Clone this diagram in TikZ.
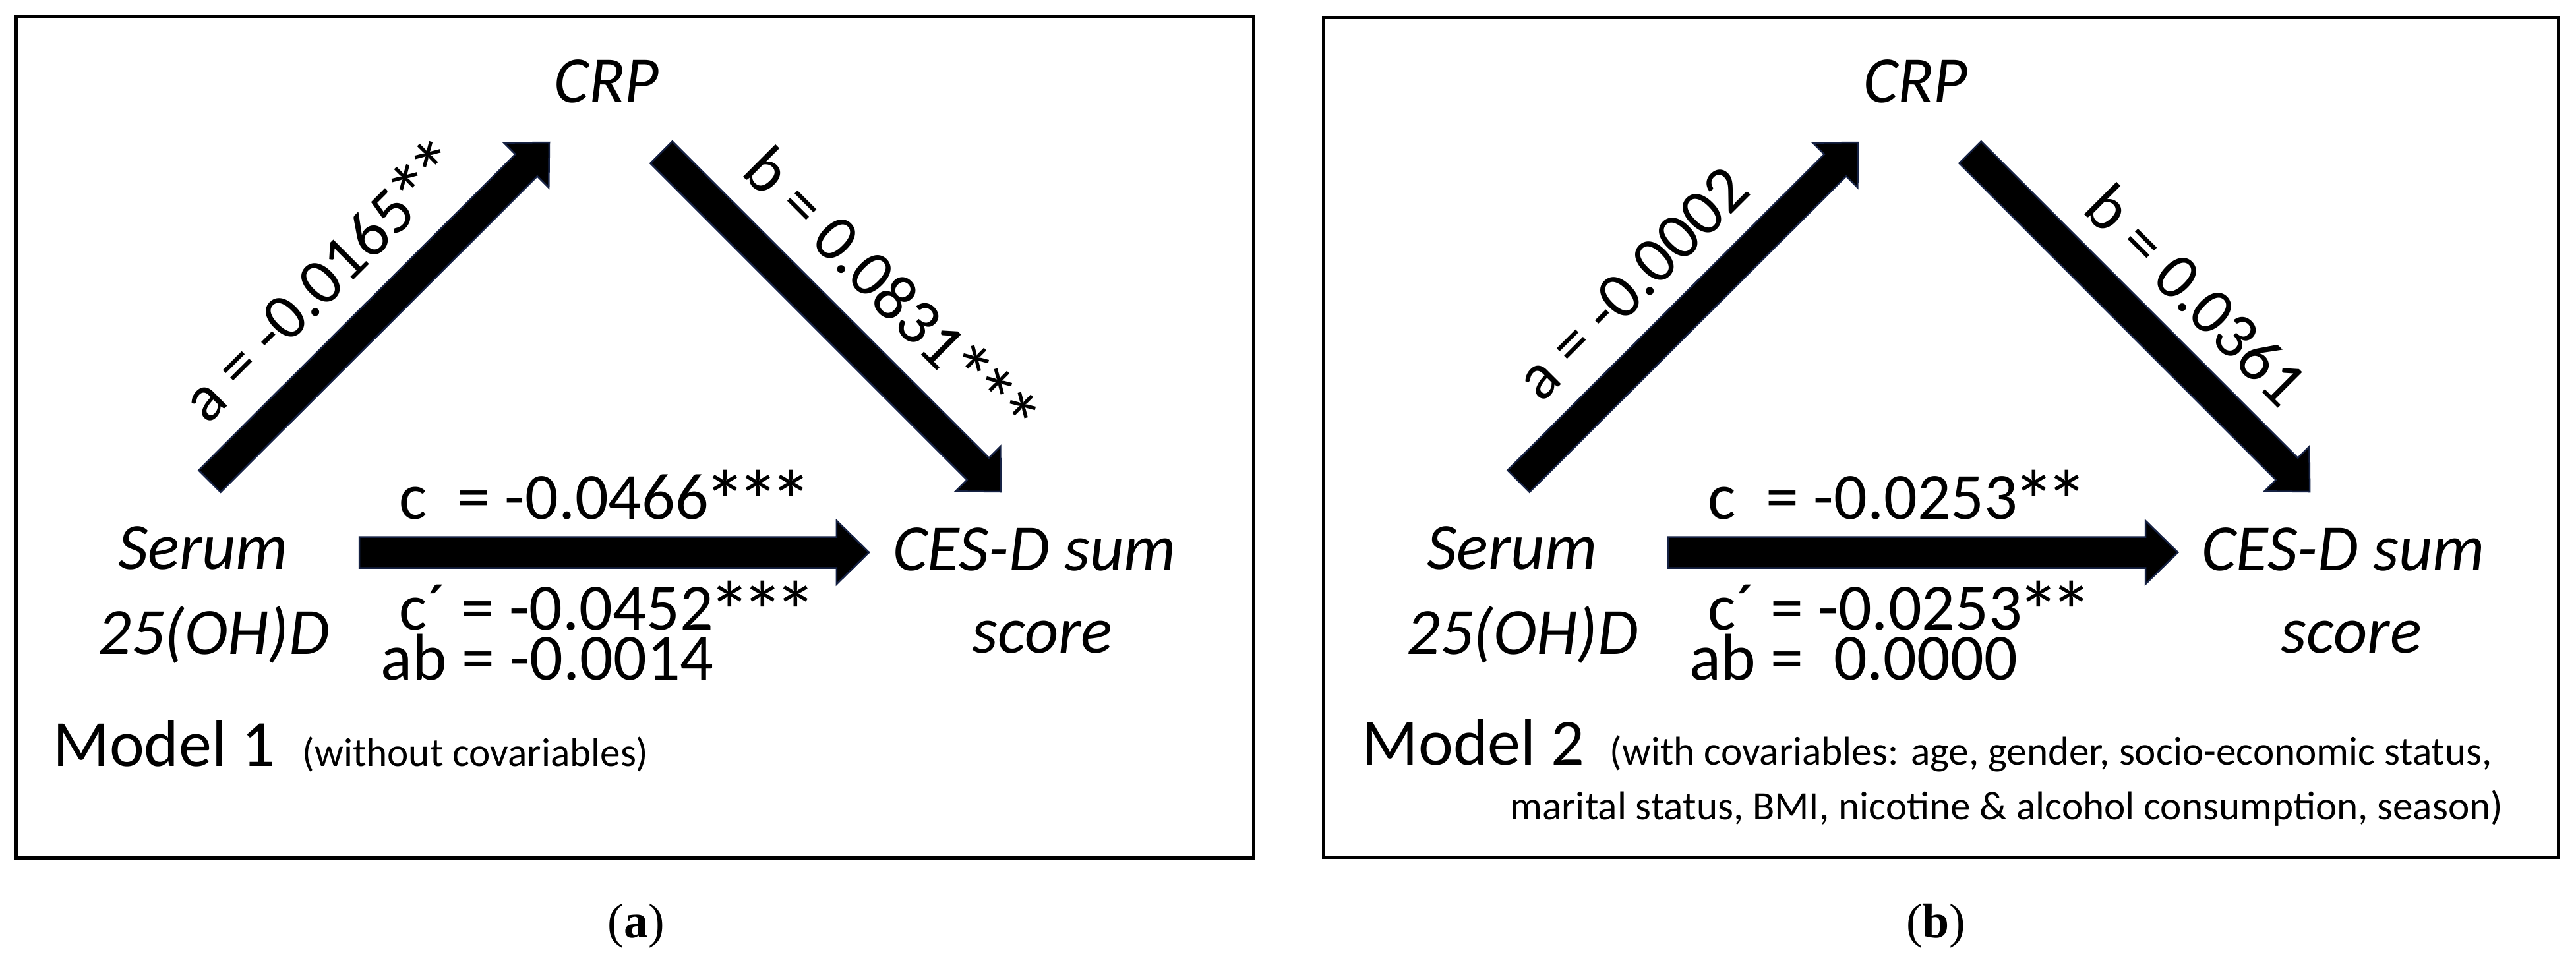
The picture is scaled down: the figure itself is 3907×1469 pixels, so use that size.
\documentclass[tikz,border=0pt]{standalone}
\usepackage{graphicx}
\usepackage{fontspec}
\setmainfont{Carlito}
\newfontfamily\capfont{Liberation Serif}
\usetikzlibrary{calc}
\definecolor{arrowedge}{RGB}{22,34,68}
\newcommand\bigstar{\makebox[0.5em]{\raisebox{-0.18em}{\scalebox{1.3}{*}}}}
\tikzset{
  lab/.style={inner sep=0pt, font=\fontsize{28.45}{34}\selectfont},
  vlab/.style={inner sep=0pt, font=\fontsize{28.45}{34}\selectfont\itshape},
  smalltxt/.style={inner sep=0pt, font=\fontsize{17.4}{21}\selectfont},
  captxt/.style={inner sep=0pt, font=\fontsize{21}{25}\selectfont\capfont},
  panel/.style={draw=black, line width=0.05cm},
  blockarrow/.style={fill=black, draw=arrowedge, line width=0.025cm, line join=miter},
}
\newcommand\fatarrow[2]{%
  \coordinate (#2-b) at ($(#2)!0.49cm!(#1)$);
  \draw[blockarrow] ($(#1)!0.235cm!90:(#2)$) -- ($(#2-b)!0.235cm!-90:(#1)$)
    -- ($(#2-b)!0.48cm!-90:(#1)$) -- (#2) -- ($(#2-b)!0.48cm!90:(#1)$)
    -- ($(#2-b)!0.235cm!90:(#1)$) -- ($(#1)!0.235cm!-90:(#2)$) -- cycle;}
\begin{document}
\begin{tikzpicture}[x=0.01cm,y=-0.01cm]
\useasboundingbox (0,0) rectangle (3907,1469);
\fill[white] (0,0) rectangle (3907,1469);
% ---------------- panel (a)
\draw[panel] (24,24) rectangle (1901,1301);
\node[vlab,anchor=base] (crpA) at (920,155) {CRP};
\node[vlab,anchor=base] (serA) at (308,863) {Serum};
\node[vlab,anchor=base] (ohdA) at (324,992) {25(OH)D};
\node[vlab,anchor=base] (cesA) at (1569,865) {CES-D sum};
\node[vlab,anchor=base] (scoA) at (1581,990) {score};
\coordinate (aTa) at (318,730); \coordinate (aHa) at (833,216);
\coordinate (bTa) at (1003,231); \coordinate (bHa) at (1518,746);
\coordinate (cTa) at (545,838); \coordinate (cHa) at (1318,838);
\fatarrow{aTa}{aHa}
\fatarrow{bTa}{bHa}
\fatarrow{cTa}{cHa}
\node[lab,rotate=45] (alA) at (490.6,430.2) {a = -0.0165\bigstar\bigstar};
\node[lab,rotate=-45] (blA) at (1346.7,447.4) {b = 0.0831\bigstar\bigstar\bigstar};
\node[lab,anchor=base west] (clA) at (605,787) {c\ \ = -0.0466\bigstar\bigstar\bigstar};
\node[lab,anchor=base west] (cpA) at (605,955) {c´ = -0.0452\bigstar\bigstar\bigstar};
\node[lab,anchor=base west] (abA) at (577,1031) {ab = -0.0014};
\node[lab,anchor=base west] (mA) at (80,1162) {Model 1};
\node[smalltxt,anchor=base west] (mcA) at (458,1162) {(without covariables)};
\node[captxt] (capA) at (965,1405) {(\textbf{a})};
% ---------------- panel (b)
\begin{scope}[xshift=19.84cm]
\draw[panel] (22,26) rectangle (1895,1300);
\node[vlab,anchor=base] (crpB) at (920,155) {CRP};
\node[vlab,anchor=base] (serB) at (308,863) {Serum};
\node[vlab,anchor=base] (ohdB) at (324,992) {25(OH)D};
\node[vlab,anchor=base] (cesB) at (1569,865) {CES-D sum};
\node[vlab,anchor=base] (scoB) at (1581,990) {score};
\coordinate (aTb) at (318,730); \coordinate (aHb) at (833,216);
\coordinate (bTb) at (1003,231); \coordinate (bHb) at (1518,746);
\coordinate (cTb) at (545,838); \coordinate (cHb) at (1318,838);
\fatarrow{aTb}{aHb}
\fatarrow{bTb}{bHb}
\fatarrow{cTb}{cHb}
\node[lab,rotate=45] (alB) at (490.6,430.2) {a = -0.0002};
\node[lab,rotate=-45] (blB) at (1346.7,447.4) {b = 0.0361};
\node[lab,anchor=base west] (clB) at (605,787) {c\ \ = -0.0253\bigstar\bigstar};
\node[lab,anchor=base west] (cpB) at (605,955) {c´ = -0.0253\bigstar\bigstar};
\node[lab,anchor=base west] (abB) at (577,1031) {ab =\ \ 0.0000};
\node[lab,anchor=base west] (mB) at (80,1160) {Model 2};
\node[smalltxt,anchor=base west] (mcB1) at (456,1160) {(with covariables: age, gender, socio-economic status,};
\node[smalltxt,anchor=base east] (mcB2) at (1812,1243) {marital status, BMI, nicotine \& alcohol consumption, season)};
\node[captxt] (capB) at (951,1405) {(\textbf{b})};
\end{scope}
\end{tikzpicture}
\end{document}
